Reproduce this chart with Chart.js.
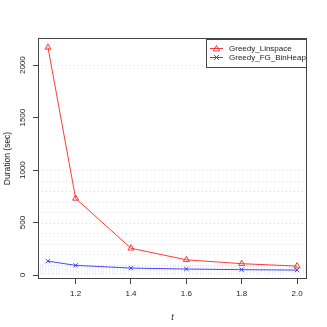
<!DOCTYPE html>
<html><head><meta charset="utf-8">
<script src="https://cdn.jsdelivr.net/npm/chart.js@4/dist/chart.umd.min.js"></script>
<style>html,body{margin:0;padding:0;background:#fff}#w{width:327px;height:327px}</style>
</head><body><div id="w"><canvas id="c" width="327" height="327"></canvas></div>
<script>
const tValues = [1.1, 1.2, 1.4, 1.6, 1.8, 2.0];
const linspace = [2170, 730, 255, 145, 108, 85];
const binheap = [132, 92, 66, 57, 51, 47];
const seriesNames = ["Greedy_Linspace", "Greedy_FG_BinHeap"];
const xTicks = [1.2, 1.4, 1.6, 1.8, 2.0];
const yTicks = [0, 500, 1000, 1500, 2000];
const dottedY = [100, 200, 300, 400, 500, 600, 700, 800, 900, 1000, 2000];

const FONT = "'Liberation Sans', Arial, Helvetica, sans-serif";

const boxPlugin = {
  id: 'rbox',
  beforeDatasetsDraw(chart) {
    const {ctx, chartArea: a, scales: {x, y}} = chart;
    ctx.save();
    ctx.strokeStyle = 'rgba(170,185,240,0.22)';
    ctx.lineWidth = 1;
    const y0 = y.getPixelForValue(0), y1 = y.getPixelForValue(100);
    for (let i = 107; i <= 203; i++) {
      const px = Math.round(x.getPixelForValue(i / 100)) + 0.5;
      ctx.beginPath(); ctx.moveTo(px, y0); ctx.lineTo(px, y1); ctx.stroke();
    }
    ctx.strokeStyle = 'rgba(185,185,185,0.5)';
    ctx.setLineDash([1, 3]);
    dottedY.forEach(v => {
      const py = Math.round(y.getPixelForValue(v)) + 0.5;
      ctx.beginPath(); ctx.moveTo(a.left, py); ctx.lineTo(a.right, py); ctx.stroke();
    });
    ctx.restore();
  },
  afterDraw(chart) {
    const {ctx, chartArea: a} = chart;
    ctx.save();
    ctx.strokeStyle = '#444';
    ctx.lineWidth = 1;
    ctx.strokeRect(Math.round(a.left) + 0.5, Math.round(a.top) + 0.5, Math.round(a.right - a.left) - 1, Math.round(a.bottom - a.top) - 1);
    const lw = 101, lh = 28;
    const lx = Math.round(a.right) - lw, ly = Math.round(a.top) + 1;
    ctx.fillStyle = '#fff';
    ctx.fillRect(lx, ly, lw, lh);
    ctx.strokeStyle = '#444';
    ctx.strokeRect(lx + 0.5, ly + 0.5, lw - 1, lh);
    ctx.font = "8px " + FONT;
    ctx.textBaseline = 'middle';
    chart.data.datasets.forEach((ds, i) => {
      const cy = ly + 9.5 + i * 9;
      ctx.strokeStyle = ds.borderColor;
      ctx.beginPath(); ctx.moveTo(lx + 4, cy); ctx.lineTo(lx + 17, cy); ctx.stroke();
      const cx = lx + 10.5;
      if (i === 0) {
        ctx.beginPath(); ctx.moveTo(cx, cy - 3); ctx.lineTo(cx + 3.2, cy + 2.5); ctx.lineTo(cx - 3.2, cy + 2.5); ctx.closePath(); ctx.stroke();
      } else {
        ctx.beginPath(); ctx.moveTo(cx - 2.5, cy - 2.5); ctx.lineTo(cx + 2.5, cy + 2.5); ctx.moveTo(cx + 2.5, cy - 2.5); ctx.lineTo(cx - 2.5, cy + 2.5); ctx.stroke();
      }
      ctx.fillStyle = '#222';
      ctx.textAlign = 'left';
      ctx.fillText(ds.label, lx + 23, cy);
    });
    ctx.restore();
  }
};

new Chart(document.getElementById('c'), {
  type: 'line',
  data: {
    datasets: [
      {label: seriesNames[0], data: tValues.map((t, i) => ({x: t, y: linspace[i]})), borderColor: 'rgba(255,40,40,0.9)', borderWidth: 1, pointStyle: 'triangle', pointRadius: 3.5, pointBorderColor: 'rgba(255,40,40,0.9)', pointBackgroundColor: 'rgba(0,0,0,0)', pointBorderWidth: 1, tension: 0},
      {label: seriesNames[1], data: tValues.map((t, i) => ({x: t, y: binheap[i]})), borderColor: 'rgba(40,40,255,0.85)', borderWidth: 1, pointStyle: 'crossRot', pointRadius: 3, pointBorderColor: 'rgba(40,40,255,0.85)', pointBorderWidth: 1, tension: 0}
    ]
  },
  options: {
    responsive: false, animation: false,
    layout: {padding: {top: 38, right: 20, left: 0, bottom: 0}},
    plugins: {legend: {display: false}, tooltip: {enabled: false}},
    scales: {
      x: {
        type: 'linear', min: 1.064, max: 2.036,
        afterBuildTicks: s => { s.ticks = xTicks.map(v => ({value: v})); },
        afterFit: s => { s.height = 48; },
        grid: {drawOnChartArea: false, drawTicks: true, tickLength: 5, color: '#444'},
        border: {display: false},
        ticks: {font: {size: 8, family: FONT}, color: '#222', padding: 5, maxRotation: 0, callback: v => v.toFixed(1)},
        title: {display: true, text: 't', font: {size: 9, family: FONT, style: 'italic'}, color: '#222', padding: {top: 14}}
      },
      y: {
        type: 'linear', min: -38, max: 2259,
        afterBuildTicks: s => { s.ticks = yTicks.map(v => ({value: v})); },
        afterFit: s => { s.width = 38; },
        grid: {drawOnChartArea: false, drawTicks: true, tickLength: 5, color: '#444'},
        border: {display: false},
        ticks: {font: {size: 8, family: FONT}, color: '#222', padding: 1, minRotation: 90, maxRotation: 90, crossAlign: 'center', callback: v => String(v)},
        title: {display: true, text: 'Duration (sec)', font: {size: 8.5, family: FONT}, color: '#222', padding: {bottom: 0, top: 3}}
      }
    }
  },
  plugins: [boxPlugin]
});
</script></body></html>
